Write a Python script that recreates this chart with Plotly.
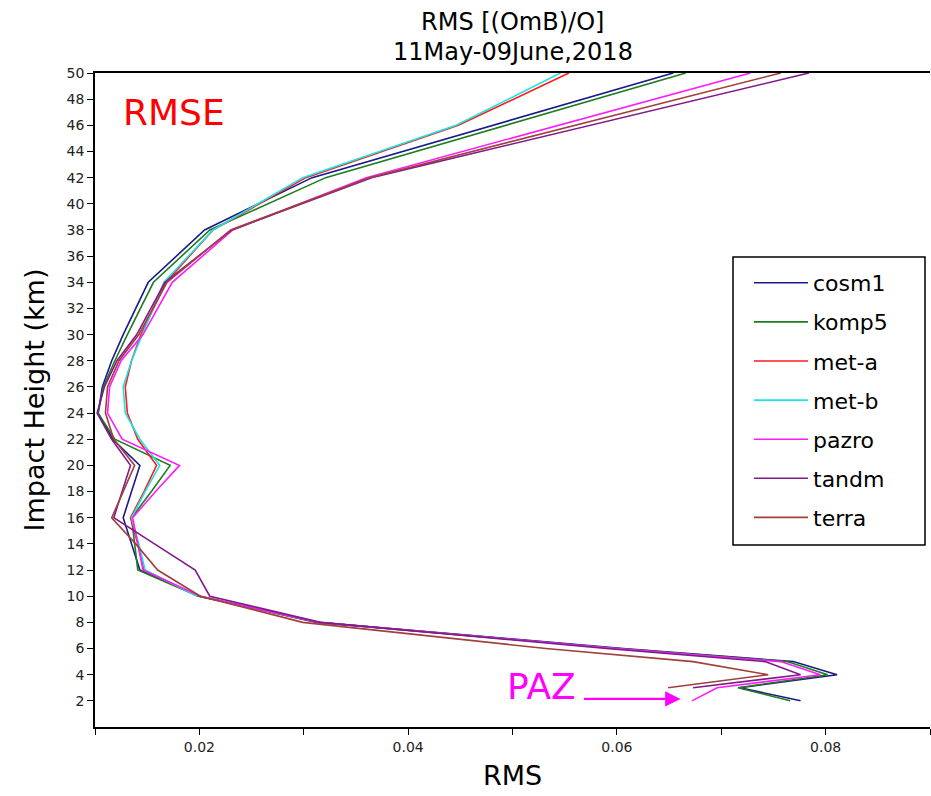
import plotly.graph_objects as go

heights = [50, 46, 42, 38, 34, 30, 28, 26, 24, 22, 20, 18, 16, 14, 12, 10, 8, 6, 5, 4, 3, 2]

cosm1 = [0.0654, 0.0481, 0.0308, 0.0205, 0.0151, 0.0127, 0.0116, 0.0107, 0.0103, 0.0117, 0.0143,
         0.0135, 0.0127, 0.0135, 0.0143, 0.0200, 0.0314, 0.0606, 0.0769, 0.0811, 0.0718, 0.0776]
komp5 = [0.0666, 0.0493, 0.0321, 0.0210, 0.0156, 0.0131, 0.0119, 0.0108, 0.0103, 0.0119, 0.0172,
         0.0154, 0.0135, 0.0138, 0.0141, 0.0199, 0.0312, 0.0602, 0.0763, 0.0802, 0.0716, 0.0766]
met_a = [0.0554, 0.0448, 0.0302, 0.0213, 0.0168, 0.0144, 0.0135, 0.0129, 0.0131, 0.0141, 0.0159,
         0.0147, 0.0134, 0.0141, 0.0147, 0.0199, None, None, None, None, None, None]
met_b = [0.0546, 0.0446, 0.0299, 0.0213, 0.0166, 0.0145, 0.0135, 0.0127, 0.0129, 0.0143, 0.0162,
         0.0148, 0.0135, 0.0142, 0.0148, 0.0198, None, None, None, None, None, None]
pazro = [0.0728, 0.0545, 0.0360, 0.0232, 0.0174, 0.0146, 0.0125, 0.0114, 0.0112, 0.0126, 0.0181,
         0.0158, 0.0136, 0.0141, 0.0146, 0.0201, 0.0314, 0.0599, 0.0757, 0.0795, 0.0696, 0.0672]
tandm = [0.0784, 0.0575, 0.0365, 0.0231, 0.0167, 0.0140, 0.0121, 0.0109, 0.0102, 0.0116, 0.0134,
         0.0126, 0.0118, 0.0157, 0.0196, 0.0210, 0.0316, 0.0590, 0.0742, 0.0776, 0.0673, None]
terra = [0.0757, 0.0560, 0.0363, 0.0230, 0.0169, 0.0142, 0.0123, 0.0112, 0.0110, 0.0118, 0.0138,
         0.0127, 0.0116, 0.0139, 0.0160, 0.0201, 0.0299, 0.0532, 0.0673, 0.0745, 0.0649, None]

series_names = ["cosm1", "komp5", "met-a", "met-b", "pazro", "tandm", "terra"]
series_vals = [cosm1, komp5, met_a, met_b, pazro, tandm, terra]
series_colors = ["#1a1a8a", "#1e7d1e", "#ff1a1a", "#1ae5e5", "#ff1aff", "#7f1a8a", "#a0403a"]

x_tickvals = [0.01, 0.02, 0.03, 0.04, 0.05, 0.06, 0.07, 0.08, 0.09]
x_ticktext = ["", "0.02", "", "0.04", "", "0.06", "", "0.08", ""]
y_tickvals = list(range(2, 51, 2))

title_line1 = "RMS [(OmB)/O]"
title_line2 = "11May-09June,2018"

FONT = "DejaVu Sans"
W, H = 931, 796
ML, MR, MT, MB = 95, 1, 73, 69
PW, PH = W - ML - MR, H - MT - MB


def px_x(px):
    return (px - ML) / PW


def px_y(py):
    return (H - MB - py) / PH


fig = go.Figure()
for name, vals, col in zip(series_names, series_vals, series_colors):
    fig.add_trace(go.Scatter(
        x=vals, y=heights, mode="lines", name=name, legendgroup=name,
        line=dict(color=col, width=1.6), connectgaps=False,
    ))

fig.update_layout(
    width=W, height=H,
    margin=dict(l=ML, r=MR, t=MT, b=MB),
    paper_bgcolor="white", plot_bgcolor="white",
    font=dict(family=FONT, color="black"),
    legend=dict(x=px_x(749), y=px_y(262), xanchor="left", yanchor="top",
                bgcolor="rgba(0,0,0,0)", borderwidth=0,
                font=dict(size=22, family=FONT, color="black"),
                tracegroupgap=7.5, itemwidth=54),
    showlegend=True,
)
fig.add_shape(type="rect", xref="paper", yref="paper",
              x0=px_x(733), x1=px_x(925), y0=px_y(545), y1=px_y(257),
              line=dict(color="black", width=1.5), fillcolor="white", layer="below")

fig.update_xaxes(
    range=[0.01, 0.09], tickvals=x_tickvals, ticktext=x_ticktext,
    showgrid=False, zeroline=False, showline=True, linecolor="black", linewidth=1.5,
    mirror=True, ticks="outside", ticklen=6, tickcolor="black",
    tickfont=dict(size=14, family=FONT, color="#222222"),
    title=dict(text="RMS", font=dict(size=27, family=FONT, color="black"), standoff=13),
)
fig.update_yaxes(
    range=[0, 50], tickvals=y_tickvals,
    showgrid=False, zeroline=False, showline=True, linecolor="black", linewidth=1.5,
    mirror=False, ticks="outside", ticklen=6, tickcolor="black",
    tickfont=dict(size=14, family=FONT, color="#222222"),
    title=dict(text="Impact Height (km)", font=dict(size=27, family=FONT, color="black"), standoff=14),
)

fig.add_annotation(x=0.5, y=px_y(22), xref="paper", yref="paper", text=title_line1,
                   showarrow=False, xanchor="center", yanchor="middle",
                   font=dict(size=24, family=FONT, color="black"))
fig.add_annotation(x=0.5, y=px_y(52), xref="paper", yref="paper", text=title_line2,
                   showarrow=False, xanchor="center", yanchor="middle",
                   font=dict(size=24, family=FONT, color="black"))

fig.add_annotation(x=0.0125, y=47.0, xref="x", yref="y", text="RMSE", showarrow=False,
                   xanchor="left", yanchor="middle", font=dict(size=36, family=FONT, color="red"))
fig.add_annotation(x=0.0493, y=3.1, xref="x", yref="y", text="PAZ", showarrow=False,
                   xanchor="left", yanchor="middle", font=dict(size=36, family=FONT, color="#ff00ff"))
fig.add_annotation(x=0.0661, y=2.15, ax=0.0567, ay=2.15, xref="x", yref="y", axref="x", ayref="y",
                   text="", showarrow=True, arrowhead=2, arrowsize=1.4, arrowwidth=2.2,
                   arrowcolor="#ff00ff")

fig.write_html("out.html", config={"displayModeBar": False},
               post_script="document.body.style.margin='0';document.body.style.overflow='hidden';")
